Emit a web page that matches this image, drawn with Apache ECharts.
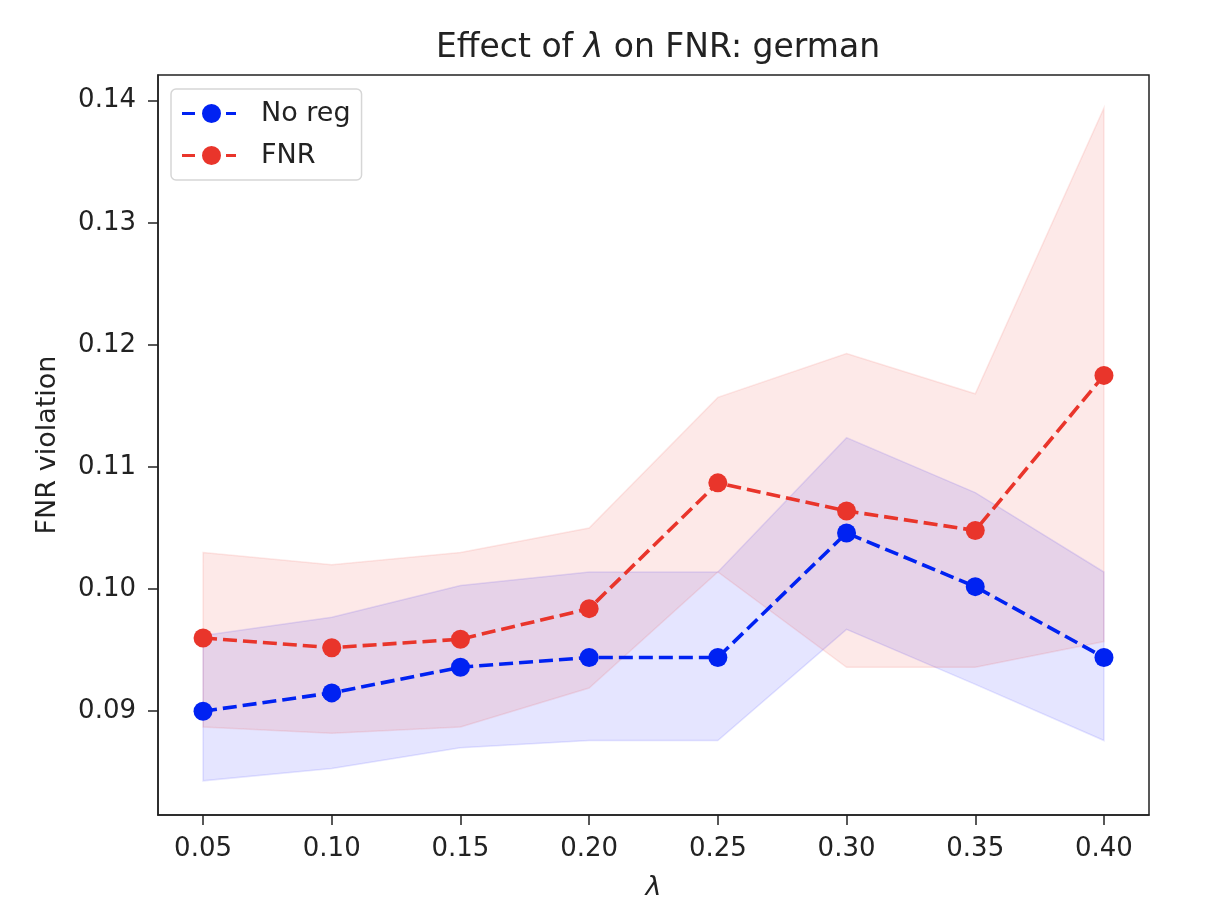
<!DOCTYPE html>
<html lang="en">
<head>
    <meta charset="UTF-8">
    <title>Effect of lambda on FNR: german</title>
    <script src="https://cdn.jsdelivr.net/npm/echarts@6/dist/echarts.min.js"></script>
    <style>
        html, body { margin: 0; padding: 0; background: #fff; overflow: hidden; }
    </style>
</head>
<body>
<div id="main" style="width: 100vw;height:100vh;"></div>
<script type="text/javascript">
    // lambda values (x axis)
    var lambdas = [0.05, 0.10, 0.15, 0.20, 0.25, 0.30, 0.35, 0.40];
    // No reg: mean and band
    var noReg     = [0.0900, 0.0915, 0.0936, 0.0944, 0.0944, 0.1046, 0.1002, 0.0944];
    var noRegLow  = [0.0843, 0.0853, 0.0870, 0.0876, 0.0876, 0.0967, 0.0922, 0.0876];
    var noRegHigh = [0.0962, 0.0977, 0.1003, 0.1014, 0.1014, 0.1124, 0.1079, 0.1014];
    // FNR: mean and band
    var fnr     = [0.0960, 0.0952, 0.0959, 0.0984, 0.1087, 0.1064, 0.1048, 0.1175];
    var fnrLow  = [0.0887, 0.0882, 0.0887, 0.0919, 0.1014, 0.0936, 0.0936, 0.0957];
    var fnrHigh = [0.1030, 0.1020, 0.1030, 0.1050, 0.1157, 0.1193, 0.1160, 0.1394];
    // tick labels
    var xTicks = [0.05, 0.10, 0.15, 0.20, 0.25, 0.30, 0.35, 0.40];
    var yTicks = [0.09, 0.10, 0.11, 0.12, 0.13, 0.14];

    var BLUE = '#0022f2';
    var RED = '#e9352b';
    var FONT = 'DejaVu Sans';
    var legendIcon = 'path://M0,8h13v3H0z M44,8h10v3H44z M29.5,0a9.5,9.5 0 1,1 0,19a9.5,9.5 0 1,1 0,-19z';

    function pairs(xs, ys) {
        var out = [];
        for (var i = 0; i < xs.length; i++) out.push([xs[i], ys[i]]);
        return out;
    }

    // band polygon drawn once from the low/high arrays through the axes
    function bandSeries(name, low, high, color) {
        var data = [];
        for (var i = 0; i < lambdas.length; i++) data.push([lambdas[i], low[i], high[i]]);
        return {
            name: name,
            type: 'custom',
            z: 1,
            silent: true,
            data: data,
            encode: { x: 0, y: [1, 2] },
            renderItem: function (params, api) {
                if (params.dataIndex !== 0) return null;
                var pts = [];
                for (var i = 0; i < data.length; i++) pts.push(api.coord([data[i][0], data[i][2]]));
                for (var j = data.length - 1; j >= 0; j--) pts.push(api.coord([data[j][0], data[j][1]]));
                return {
                    type: 'polygon',
                    shape: { points: pts },
                    style: { fill: color, opacity: 0.11, stroke: color, lineWidth: 1.5 }
                };
            }
        };
    }

    var myChart = echarts.init(document.getElementById('main'));
    myChart.setOption({
        animation: false,
        title: {
            text: '{n|Effect of }{i|λ}{n| on FNR: german}',
            left: 653,
            textAlign: 'center',
            top: 27,
            textStyle: {
                rich: {
                    n: { fontFamily: FONT, fontSize: 33, color: '#222', fontWeight: 'normal' },
                    i: { fontFamily: FONT, fontSize: 33, color: '#222', fontWeight: 'normal', fontStyle: 'italic' }
                }
            }
        },
        legend: {
            data: [
                { name: 'No reg', icon: legendIcon },
                { name: 'FNR', icon: legendIcon }
            ],
            orient: 'vertical',
            left: 171,
            top: 89,
            itemWidth: 54,
            itemHeight: 19,
            itemGap: 15,
            padding: [11, 11, 11, 11],
            borderColor: '#d6d6d6',
            borderWidth: 1.5,
            borderRadius: 5,
            backgroundColor: '#fff',
            textStyle: { fontFamily: FONT, fontSize: 27, color: '#222', padding: [0, 0, 0, 20] }
        },
        grid: {
            left: 158,
            right: 73,
            top: 75,
            bottom: 99,
            show: true,
            borderColor: '#222',
            borderWidth: 1.5,
            containLabel: false
        },
        xAxis: {
            type: 'value',
            min: 0.0325,
            max: 0.4175,
            name: 'λ',
            nameLocation: 'middle',
            nameGap: 59,
            nameTextStyle: { fontFamily: FONT, fontSize: 27, color: '#222', fontStyle: 'italic' },
            splitLine: { show: false },
            axisLine: { show: true, lineStyle: { color: '#222', width: 1.5 } },
            axisTick: { show: true, length: 10, customValues: xTicks, lineStyle: { color: '#222', width: 1.5 } },
            axisLabel: {
                customValues: xTicks,
                margin: 21,
                fontFamily: FONT, fontSize: 26, color: '#222',
                formatter: function (v) { return v.toFixed(2); }
            }
        },
        yAxis: {
            type: 'value',
            min: 0.0815,
            max: 0.1421,
            name: 'FNR violation',
            nameLocation: 'middle',
            nameGap: 97,
            nameTextStyle: { fontFamily: FONT, fontSize: 27, color: '#222' },
            splitLine: { show: false },
            axisLine: { show: true, lineStyle: { color: '#222', width: 1.5 } },
            axisTick: { show: true, length: 10, customValues: yTicks, lineStyle: { color: '#222', width: 1.5 } },
            axisLabel: {
                customValues: yTicks,
                margin: 22,
                fontFamily: FONT, fontSize: 26, color: '#222',
                formatter: function (v) { return v.toFixed(2); }
            }
        },
        series: [
            bandSeries('No reg band', noRegLow, noRegHigh, '#1010ff'),
            bandSeries('FNR band', fnrLow, fnrHigh, RED),
            {
                name: 'No reg',
                type: 'line',
                z: 3,
                data: pairs(lambdas, noReg),
                symbol: 'circle',
                symbolSize: 19,
                itemStyle: { color: BLUE },
                lineStyle: { color: BLUE, width: 3.6, type: [14, 6] }
            },
            {
                name: 'FNR',
                type: 'line',
                z: 3,
                data: pairs(lambdas, fnr),
                symbol: 'circle',
                symbolSize: 19,
                itemStyle: { color: RED },
                lineStyle: { color: RED, width: 3.6, type: [14, 6] }
            }
        ]
    });
</script>
</body>
</html>
